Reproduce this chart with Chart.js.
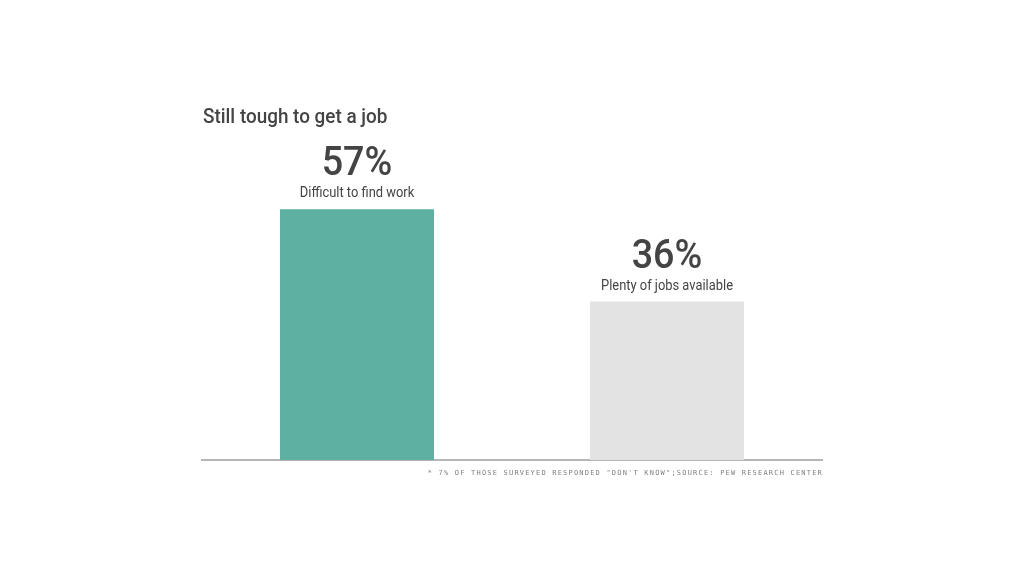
<!DOCTYPE html>
<html>
<head>
<meta charset="utf-8">
<script src="https://cdn.jsdelivr.net/npm/chart.js@4"></script>
<style>
  body { margin: 0; background: #fff; }
  #wrap { position: relative; width: 1024px; height: 576px; }
  #myChart { position: absolute; left: 0; top: 0; }
  .title { position: absolute; left: 203px; top: 104px; font: 500 21px Roboto, sans-serif; color: #444; transform: scaleX(0.9); transform-origin: left top; white-space: nowrap; }
  .note { position: absolute; right: 201px; top: 469px; font: 7px "DejaVu Sans Mono", monospace; letter-spacing: 1.2px; color: #808080; }
</style>
</head>
<body>
<div id="wrap">
  <canvas id="myChart" width="1024" height="576"></canvas>
  <div class="title">Still tough to get a job</div>
  <div class="note">* 7% OF THOSE SURVEYED RESPONDED "DON'T KNOW";SOURCE: PEW RESEARCH CENTER</div>
</div>
<script>
const labels = ["Difficult to find work", "Plenty of jobs available"];
const values = [57, 36];
const colors = ["#5eb0a3", "#e3e3e3"];

// condensed text, centered on x
function narrowText(ctx, text, x, y, squeeze) {
  ctx.save();
  ctx.translate(x, y);
  ctx.scale(squeeze, 1);
  ctx.fillText(text, 0, 0);
  ctx.restore();
}

const barLabels = {
  id: "barLabels",
  afterDatasetsDraw(chart) {
    const ctx = chart.ctx;
    const meta = chart.getDatasetMeta(0);
    ctx.save();
    ctx.textAlign = "center";
    ctx.textBaseline = "alphabetic";
    ctx.fillStyle = "#444";
    meta.data.forEach((bar, i) => {
      ctx.font = "500 41px Roboto, sans-serif";
      narrowText(ctx, values[i] + "%", bar.x, bar.y - 34, 0.92);
      ctx.font = "15px Roboto, sans-serif";
      narrowText(ctx, labels[i], bar.x, bar.y - 12, 0.86);
    });
    ctx.restore();
  },
};

let chart = null;

function createChart() {
  const ctx = document.getElementById("myChart");
  chart = new Chart(ctx, {
    type: "bar",
    data: {
      labels: labels,
      datasets: [{
        data: values,
        backgroundColor: colors,
        borderWidth: 0,
        barPercentage: 1,
        categoryPercentage: 0.497,
      }],
    },
    options: {
      responsive: false,
      animation: false,
      layout: { padding: { left: 202, right: 202, top: 20, bottom: 116 } },
      plugins: { legend: { display: false }, tooltip: { enabled: false }, title: { display: false } },
      scales: {
        x: {
          ticks: { display: false },
          grid: { display: false, drawTicks: false },
          border: { color: "#b5b5b5", width: 2 },
        },
        y: {
          min: 0,
          max: 100,
          display: false,
        },
      },
    },
    plugins: [barLabels],
  });
}

createChart();
</script>
</body>
</html>
